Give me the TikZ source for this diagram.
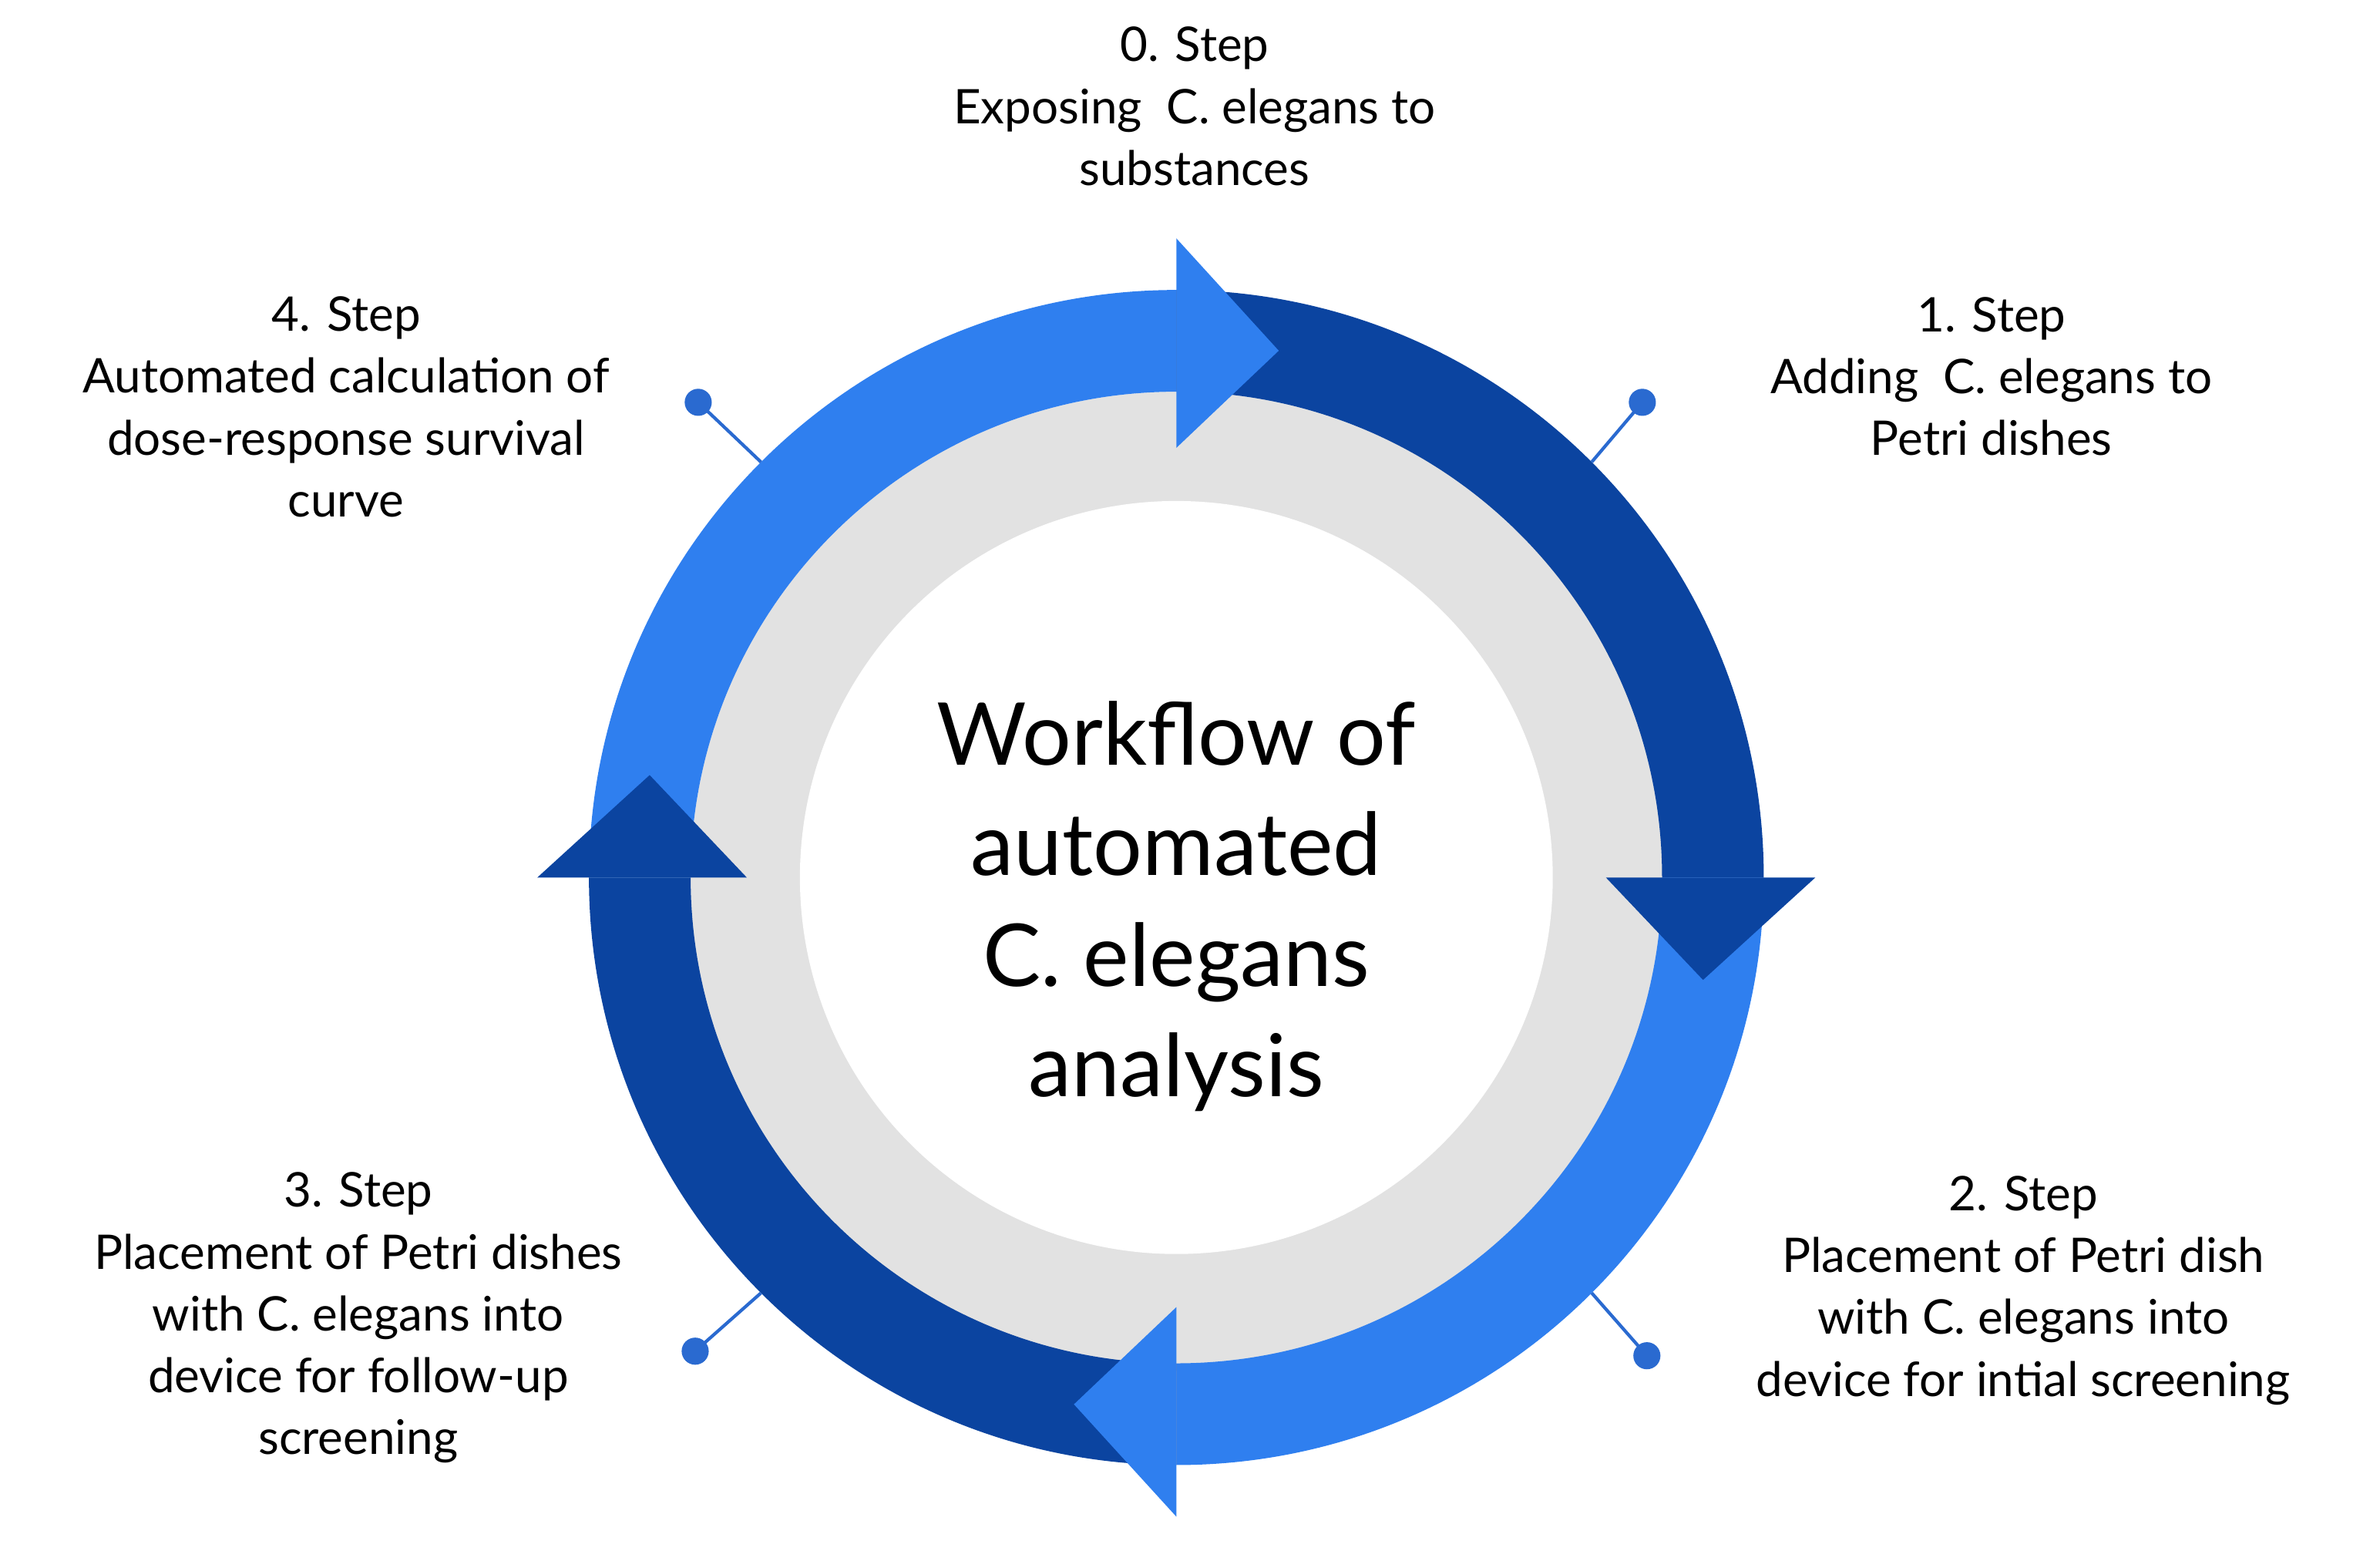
\documentclass[tikz,border=0pt]{standalone}
\usepackage{fontspec}
\setmainfont{Lato}
\usetikzlibrary{calc}
\definecolor{lb}{HTML}{2F7FEF}
\definecolor{db}{HTML}{0B44A0}
\definecolor{pin}{HTML}{2A6AD0}
\definecolor{gr}{HTML}{E2E2E2}
\begin{document}
\begin{tikzpicture}[x=1.4pt,y=-1.4pt,
  lbl/.style={align=center,font=\fontsize{44}{57}\selectfont},
  pinl/.style={draw=pin,line width=3pt},
  dot/.style={circle,fill=pin,inner sep=0pt,minimum size=25pt}]
\useasboundingbox (0,0) rectangle (1568,1015);
\coordinate (c) at (775,578);
\def\Ro{387}\def\Ri{320}
\newcommand{\band}[3]{\fill[#1] ($(c)+(#2:\Ro)$) arc[start angle=#2,end angle=#3,radius=\Ro] -- ($(c)+(#3:\Ri)$) arc[start angle=#3,end angle=#2,radius=\Ri] -- cycle;}
\newcommand{\head}[3]{\fill[#1] ($(c)+(#2:421)$) -- ($(c)+(#3:353.5)$) -- ($(c)+(#2:283)$) -- cycle;}
% gray disk
\fill[black!10] (777,581) circle[radius=322];
\fill[gr] (c) circle[radius=320];
\fill[white] (c) circle[radius=248];
% ring bands
\band{lb}{180}{270}
\band{db}{270}{360}
\band{lb}{0}{90}
\band{db}{90}{180}
% heads
\head{lb}{270}{281}
\head{db}{360}{371}
\head{lb}{90}{101}
\head{db}{180}{191}
% pins
\coordinate (p1) at ($(c)+(-45:\Ro)$);
\coordinate (p2) at ($(c)+(45:\Ro)$);
\coordinate (p3) at ($(c)+(135:\Ro)$);
\coordinate (p4) at ($(c)+(225:\Ro)$);
\node[dot] (d1) at (1082,265) {};
\node[dot] (d2) at (1085,893) {};
\node[dot] (d3) at (458,890) {};
\node[dot] (d4) at (460,265) {};
\draw[pinl] (p1) -- (d1.center);
\draw[pinl] (p2) -- (d2.center);
\draw[pinl] (p3) -- (d3.center);
\draw[pinl] (p4) -- (d4.center);
% labels
\node[lbl] (s0) at (787,70) {0. Step\\Exposing~ C. elegans to\\substances};
\node[lbl] (s1) at (1312,248) {1. Step\\Adding~ C. elegans to\\Petri dishes};
\node[lbl] (s2) at (1333,850) {2. Step\\Placement of Petri dish\\with C. elegans into\\device for intial screening};
\node[lbl] (s3) at (236,868) {3. Step\\Placement of Petri dishes\\with C. elegans into\\device for follow-up\\screening};
\node[lbl] (s4) at (228,268) {4. Step\\Automated calculation of\\dose-response survival\\curve};
\node[align=center,font=\fontsize{80}{102}\selectfont] (t) at (775,597) {Workflow of\\automated\\C. elegans\\analysis};
\end{tikzpicture}
\end{document}
